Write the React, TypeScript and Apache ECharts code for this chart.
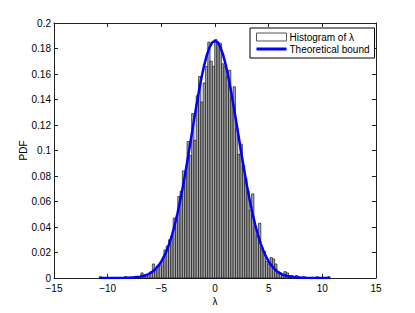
import React, { useEffect, useRef } from "react";
import * as echarts from "echarts";

// Histogram bins (MATLAB hist with 100 bins between data min and max)
const binStart = -10.78;
const binWidth = 0.215;
const histValues = [
  0.001, 0, 0, 0, 0, 0, 0, 0, 0, 0,
  0, 0.001, 0, 0, 0, 0.001, 0, 0.001, 0.004, 0.001,
  0.002, 0.003, 0.005, 0.011, 0.006, 0.010, 0.010, 0.014, 0.022, 0.025,
  0.030, 0.033, 0.047, 0.046, 0.064, 0.068, 0.084, 0.082, 0.107, 0.096,
  0.129, 0.108, 0.143, 0.158, 0.138, 0.153, 0.166, 0.185, 0.170, 0.166,
  0.187, 0.185, 0.184, 0.168, 0.166, 0.158, 0.163, 0.142, 0.150, 0.117,
  0.097, 0.105, 0.088, 0.078, 0.068, 0.053, 0.066, 0.040, 0.033, 0.043,
  0.024, 0.021, 0.013, 0.011, 0.016, 0.015, 0.011, 0.005, 0.004, 0.003,
  0.005, 0.004, 0.002, 0.002, 0.001, 0.002, 0.001, 0, 0.001, 0,
  0, 0, 0, 0, 0.001, 0, 0, 0, 0, 0.001,
];

// Theoretical bound curve
const curveX = [
  -10.78, -10, -9, -8.5, -8, -7.5, -7, -6.75, -6.5, -6.25, -6, -5.75, -5.5, -5.25, -5,
  -4.75, -4.5, -4.25, -4, -3.75, -3.5, -3.25, -3, -2.75, -2.5, -2.25, -2, -1.75, -1.5,
  -1.25, -1, -0.75, -0.5, -0.25, 0, 0.25, 0.5, 0.75, 1, 1.25, 1.5, 1.75, 2, 2.25, 2.5,
  2.75, 3, 3.25, 3.5, 3.75, 4, 4.25, 4.5, 4.75, 5, 5.25, 5.5, 5.75, 6, 6.25, 6.5, 6.75,
  7, 7.5, 8, 8.5, 9, 10, 10.72,
];
const curveY = [
  0, 0, 0.00003, 0.0001, 0.0002, 0.0005, 0.001, 0.0015, 0.0021, 0.0029, 0.004, 0.0055,
  0.0075, 0.0099, 0.013, 0.0169, 0.0216, 0.0272, 0.0339, 0.0417, 0.0505, 0.0605, 0.0714,
  0.0832, 0.0957, 0.1086, 0.1215, 0.1343, 0.1464, 0.1575, 0.1672, 0.1752, 0.1811, 0.1848,
  0.186, 0.1848, 0.1811, 0.1752, 0.1672, 0.1575, 0.1464, 0.1343, 0.1215, 0.1086, 0.0957,
  0.0832, 0.0714, 0.0605, 0.0505, 0.0417, 0.0339, 0.0272, 0.0216, 0.0169, 0.013, 0.0099,
  0.0075, 0.0055, 0.004, 0.0029, 0.0021, 0.0015, 0.001, 0.0005, 0.0002, 0.0001, 0.00003,
  0, 0,
];

const xTicks = { min: -15, max: 15, interval: 5 };
const yTicks = { min: 0, max: 0.2, interval: 0.02 };
const histName = "Histogram of λ";
const curveName = "Theoretical bound";

const FONT = "'Liberation Sans', Arial, Helvetica, sans-serif";
const AXIS_COLOR = "#222";

export default function App() {
  const ref = useRef<HTMLDivElement>(null);
  useEffect(() => {
    if (!ref.current) return;
    const chart = echarts.init(ref.current, undefined, { renderer: "svg" });
    const histData = histValues.map((v, i) => [
      binStart + i * binWidth,
      binStart + (i + 1) * binWidth,
      v,
    ]);
    const curveData = curveX.map((x, i) => [x, curveY[i]]);
    const fmtMinus = (v: number) => String(v).replace("-", "\u2212");
    const axisCommon = {
      axisLine: { show: true, onZero: false, lineStyle: { color: AXIS_COLOR, width: 1 } },
      axisTick: { show: true, inside: true, length: 4, lineStyle: { color: AXIS_COLOR } },
      splitLine: { show: false },
    };
    chart.setOption({
      animation: false,
      backgroundColor: "#fff",
      textStyle: { fontFamily: FONT },
      grid: { left: 54, right: 39, top: 23, bottom: 35, containLabel: false },
      legend: {
        orient: "vertical",
        left: 250,
        top: 28,
        padding: [4, 5, 4, 6],
        itemGap: 2,
        itemWidth: 30,
        itemHeight: 8,
        backgroundColor: "#fff",
        borderColor: "#000",
        borderWidth: 1,
        borderRadius: 0,
        textStyle: { fontFamily: FONT, fontSize: 10, color: "#000", padding: [0, 0, 0, -2] },
        data: [
          {
            name: histName,
            icon: "rect",
            itemStyle: { color: "#fff", borderColor: "#555", borderWidth: 1 },
          },
          {
            name: curveName,
            icon: "path://M0,0L30,0L30,3L0,3Z",
            itemStyle: { color: "#0000ff" },
          },
        ],
      },
      xAxis: [
        {
          type: "value",
          ...xTicks,
          position: "bottom",
          ...axisCommon,
          name: "λ",
          nameLocation: "middle",
          nameGap: 18,
          nameMoveOverlap: false,
          nameTextStyle: { fontFamily: FONT, fontSize: 10, color: "#000" },
          axisLabel: {
            fontFamily: FONT,
            fontSize: 10,
            color: "#000",
            margin: 5,
            formatter: fmtMinus,
          },
        },
        {
          type: "value",
          ...xTicks,
          position: "top",
          ...axisCommon,
          axisLabel: { show: false },
        },
      ],
      yAxis: [
        {
          type: "value",
          ...yTicks,
          position: "left",
          ...axisCommon,
          name: "PDF",
          nameLocation: "middle",
          nameGap: 26,
          nameMoveOverlap: false,
          nameRotate: 90,
          nameTextStyle: { fontFamily: FONT, fontSize: 10, color: "#000" },
          axisLabel: { fontFamily: FONT, fontSize: 10, color: "#000", margin: 3 },
        },
        {
          type: "value",
          ...yTicks,
          position: "right",
          ...axisCommon,
          axisLabel: { show: false },
        },
      ],
      series: [
        {
          name: histName,
          type: "custom",
          xAxisIndex: 0,
          yAxisIndex: 0,
          itemStyle: { color: "#fff", borderColor: "#555" },
          renderItem: (params: any, api: any) => {
            const x0 = api.value(0);
            const x1 = api.value(1);
            const y = api.value(2);
            const p0 = api.coord([x0, y]);
            const p1 = api.coord([x1, 0]);
            return {
              type: "rect",
              shape: { x: p0[0], y: p0[1], width: p1[0] - p0[0], height: p1[1] - p0[1] },
              style: { fill: "#a8a8a8", stroke: "#000", lineWidth: 0.6 },
            };
          },
          encode: { x: [0, 1], y: 2 },
          data: histData,
          z: 2,
        },
        {
          name: curveName,
          type: "line",
          xAxisIndex: 0,
          yAxisIndex: 0,
          data: curveData,
          showSymbol: false,
          symbol: "none",
          smooth: false,
          lineStyle: { color: "#0000ff", width: 2.5 },
          itemStyle: { color: "#0000ff" },
          z: 3,
        },
      ],
    });
    return () => chart.dispose();
  }, []);
  return (
    <div
      ref={ref}
      style={{ position: "fixed", left: 0, top: 0, width: 415, height: 313, background: "#fff" }}
    />
  );
}
